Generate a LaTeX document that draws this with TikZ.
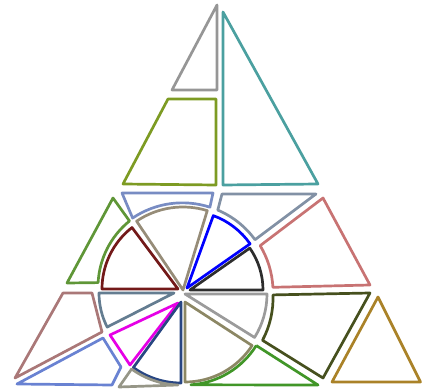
\documentclass[tikz,border=0pt]{standalone}
\usepackage{tikz}
\usepackage{xcolor}
\definecolor{topgray}{RGB}{150,150,150}
\definecolor{sailteal}{RGB}{75,160,160}
\definecolor{trapolive}{RGB}{125,155,35}
\definecolor{capblue}{RGB}{120,140,195}
\definecolor{ringgreen}{RGB}{95,150,55}
\definecolor{secmaroon}{RGB}{115,25,25}
\definecolor{sectan}{RGB}{150,140,120}
\definecolor{secblue}{RGB}{0,0,255}
\definecolor{secblack}{RGB}{45,45,45}
\definecolor{ringslate}{RGB}{130,145,165}
\definecolor{quadrose}{RGB}{200,115,115}
\definecolor{lowslate}{RGB}{100,125,145}
\definecolor{trimagenta}{RGB}{230,0,230}
\definecolor{secnavy}{RGB}{40,70,130}
\definecolor{slivergray}{RGB}{150,150,135}
\definecolor{secolive}{RGB}{140,135,100}
\definecolor{ringgray}{RGB}{155,155,155}
\definecolor{quadbrown}{RGB}{170,120,120}
\definecolor{quadcorn}{RGB}{105,130,210}
\definecolor{basegreen}{RGB}{65,150,40}
\definecolor{quaddark}{RGB}{70,80,30}
\definecolor{trigold}{RGB}{170,130,40}

\begin{document}
\begin{tikzpicture}[x=1pt,y=1pt,piece/.style={line width=2.7pt,line join=round}]
\useasboundingbox (0,0) rectangle (423,391);
% top part
\draw[piece,topgray] (217,386) -- (217,301) -- (172,301) -- cycle;
\draw[piece,sailteal] (223,379) -- (223,206) -- (318,207) -- cycle;
\draw[piece,trapolive] (168,292) -- (216,292) -- (216,206) -- (123,207) -- cycle;
% upper half of the disc
\draw[piece,secmaroon] (178,102) -- (102,102) arc[start angle=180,end angle=128,radius=78] -- cycle;
\draw[piece,sectan] (183,101) -- ++(124:83) arc[start angle=124,end angle=73,radius=83] -- cycle;
\draw[piece,secblue] (187,103) -- ++(70:77) arc[start angle=70,end angle=35,radius=77] -- cycle;
\draw[piece,secblack] (190,101) -- ++(35:73) arc[start angle=35,end angle=0,radius=73] -- cycle;
% upper ring
\draw[piece,capblue] (122,198) -- (213,198) -- (209.9,183.8) arc[start angle=72,end angle=124,radius=89] -- cycle;
\draw[piece,ringgreen] (113,193) -- (129.5,170) arc[start angle=129,end angle=177,radius=85] -- (67,108) -- cycle;
\draw[piece,ringslate] (222,197) -- (316,197) -- (255,151.3) arc[start angle=36,end angle=67,radius=89] -- cycle;
\draw[piece,quadrose] (323,193) -- (370,106) -- (272.9,103.7) arc[start angle=3,end angle=31,radius=90] -- cycle;
% lower half of the disc
\draw[piece,lowslate] (174,98) -- ++(207:75) arc[start angle=207,end angle=180,radius=75] -- cycle;
\draw[piece,trimagenta] (178,88) -- (110,56) -- (130,26) -- cycle;
\draw[piece,secnavy] (181,89) -- ++(270:81) arc[start angle=270,end angle=234,radius=81] -- cycle;
\draw[piece,slivergray] (131.6,22) arc[start angle=234,end angle=268,radius=84] -- (119,4) -- cycle;
\draw[piece,secolive] (185,89) -- ++(270:80) arc[start angle=270,end angle=327,radius=80] -- cycle;
\draw[piece,ringgray] (185,97) -- (267,97) arc[start angle=0,end angle=-32,radius=82] -- cycle;
% lower ring and corners
\draw[piece,quadbrown] (63,98) -- (92,98) -- (102,59) -- (15,13) -- cycle;
\draw[piece,quadcorn] (17,7) -- (103,53) -- (121,24) -- (112,6) -- cycle;
\draw[piece,basegreen] (256.2,45.5) -- (318,6) -- (190.9,6.2) arc[start angle=274,end angle=328,radius=84];
\draw[piece,quaddark] (262.5,50.7) arc[start angle=332,end angle=362,radius=90] -- (370,98) -- (323,13) -- cycle;
\draw[piece,trigold] (378,94) -- (332,9) -- (420.5,9) -- cycle;
\end{tikzpicture}
\end{document}
